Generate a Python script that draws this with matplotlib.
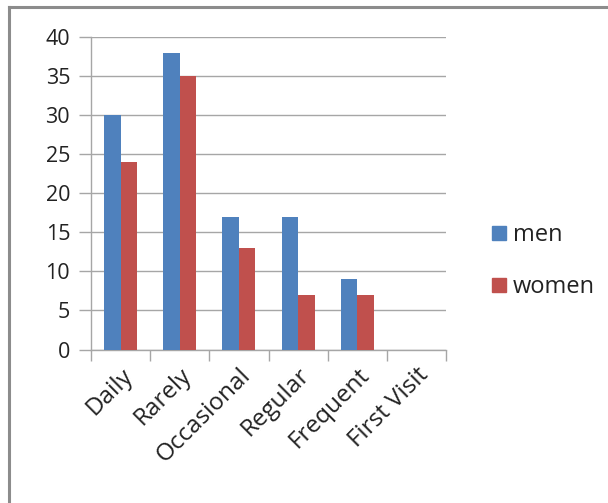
import matplotlib
matplotlib.use("Agg")
import matplotlib.pyplot as plt
from matplotlib.lines import Line2D
import numpy as np

categories = ["Daily", "Rarely", "Occasional", "Regular", "Frequent", "First Visit"]
men = [30, 38, 17, 17, 9, 0]
women = [24, 35, 13, 7, 7, 0]
yticks = [0, 5, 10, 15, 20, 25, 30, 35, 40]

blue = "#4F81BD"
red = "#C0504D"
grid_c = "#A6A6A6"
font = "Open Sans"

fig = plt.figure(figsize=(6.08, 5.03), dpi=100)
W, H = 608, 503
ax = fig.add_axes([91 / W, 1 - 349.5 / H, (446 - 91) / W, (349.5 - 37.3) / H])

x = np.arange(len(categories))
bw = 0.28
ax.bar(x - bw / 2, men, bw, color=blue, label="men", zorder=3)
ax.bar(x + bw / 2, women, bw, color=red, label="women", zorder=3)

ax.set_xlim(-0.5, len(categories) - 0.5)
ax.set_ylim(0, 40)
ax.set_yticks(yticks)
ax.set_yticklabels([str(v) for v in yticks], fontsize=15.5, family=font, color="#222222")
ax.yaxis.grid(True, color=grid_c, linewidth=1.0, zorder=0)
ax.set_axisbelow(True)

for s in ["top", "right"]:
    ax.spines[s].set_visible(False)
for s in ["left", "bottom"]:
    ax.spines[s].set_color(grid_c)
    ax.spines[s].set_linewidth(1.0)

ax.tick_params(axis="y", length=9, color=grid_c, pad=6, width=1.0)
ax.set_xticks(np.arange(len(categories) + 1) - 0.5, minor=True)
ax.set_xticks(x)
ax.set_xticklabels(categories, rotation=45, ha="right", rotation_mode="anchor",
                   fontsize=17.5, family=font, color="#222222")
ax.tick_params(axis="x", which="major", length=0, pad=10)
ax.tick_params(axis="x", which="minor", length=8, color=grid_c, width=1.0)

handles = [Line2D([], [], marker="s", linestyle="none", markersize=10.5,
                  markerfacecolor=blue, markeredgecolor=blue),
           Line2D([], [], marker="s", linestyle="none", markersize=10.5,
                  markerfacecolor=red, markeredgecolor=red)]
fig.legend(handles, ["men", "women"], loc="center left",
           bbox_to_anchor=(468 / W, 1 - 261 / H), frameon=False,
           prop={"family": font, "size": 17}, handlelength=0.8,
           handletextpad=0.2, labelspacing=1.2, labelcolor="#222222")

# outer border (only top and left visible)
fig.add_artist(Line2D([9 / W, 9 / W], [0, 1 - 7 / H], transform=fig.transFigure,
                      color="#8C8C8C", linewidth=2.2))
fig.add_artist(Line2D([9 / W, 1], [1 - 7 / H, 1 - 7 / H], transform=fig.transFigure,
                      color="#8C8C8C", linewidth=2.2))

fig.savefig("out.png", dpi=100)
